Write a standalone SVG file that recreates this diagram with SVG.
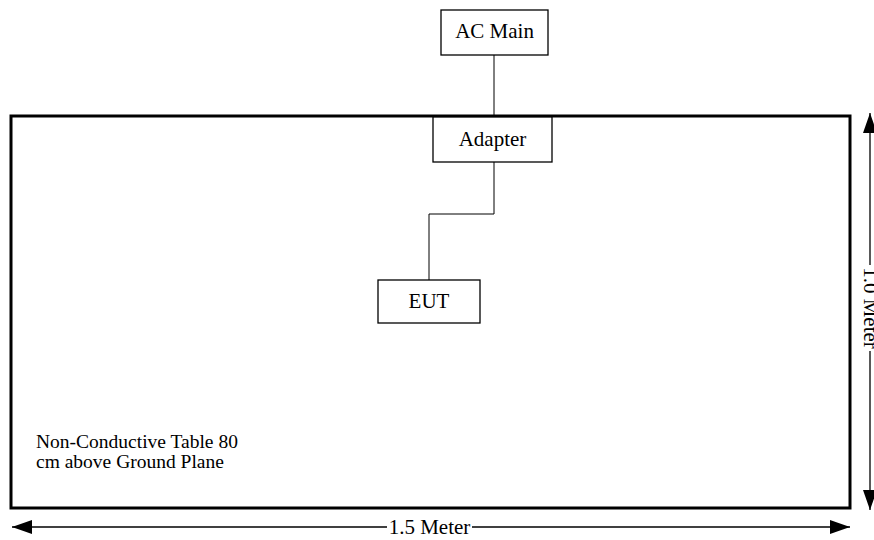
<svg xmlns="http://www.w3.org/2000/svg" width="874" height="540" viewBox="0 0 874 540">
<defs>
<style>
.box{fill:#fff;stroke:#000;stroke-width:1.3}
.wire{fill:none;stroke:#000;stroke-width:1}
.dim{fill:none;stroke:#000;stroke-width:1.3}
text{font-family:"Liberation Serif","Times New Roman",serif;font-size:21px;fill:#000}
.note{font-size:19.5px}
.c{text-anchor:middle}
</style>
<marker id="ah" viewBox="0 0 20 14" refX="20" refY="7" markerWidth="20" markerHeight="14" markerUnits="userSpaceOnUse" orient="auto-start-reverse">
<path d="M0,0 L20,7 L0,14 Z" fill="#000"/>
</marker>
</defs>
<rect width="874" height="540" fill="#fff"/>
<g id="table">
<rect x="11" y="116" width="839" height="392" fill="none" stroke="#000" stroke-width="3"/>
<text class="note" x="36" y="448">Non-Conductive Table 80</text>
<text class="note" x="36" y="468">cm above Ground Plane</text>
</g>
<g id="connectors">
<line class="wire" x1="494" y1="55" x2="494" y2="116"/>
<polyline class="wire" points="494,162 494,214 429,214 429,280"/>
</g>
<g id="ac-main">
<rect class="box" x="441" y="10" width="107" height="45"/>
<text class="c" x="494.5" y="38">AC Main</text>
</g>
<g id="adapter">
<rect class="box" x="433" y="117" width="119" height="45"/>
<text class="c" x="492.5" y="146">Adapter</text>
</g>
<g id="eut">
<rect class="box" x="378" y="280" width="102" height="43"/>
<text class="c" x="429" y="308">EUT</text>
</g>
<g id="dimension-width">
<line class="dim" x1="387" y1="527" x2="12" y2="527" marker-end="url(#ah)"/>
<line class="dim" x1="472" y1="527" x2="850" y2="527" marker-end="url(#ah)"/>
<text class="c" x="429.5" y="534">1.5 Meter</text>
</g>
<g id="dimension-height">
<line class="dim" x1="870" y1="265" x2="870" y2="113" marker-end="url(#ah)"/>
<line class="dim" x1="870" y1="351" x2="870" y2="510" marker-end="url(#ah)"/>
<text class="c" transform="translate(864,308) rotate(90)" x="0" y="0">1.0 Meter</text>
</g>
</svg>
